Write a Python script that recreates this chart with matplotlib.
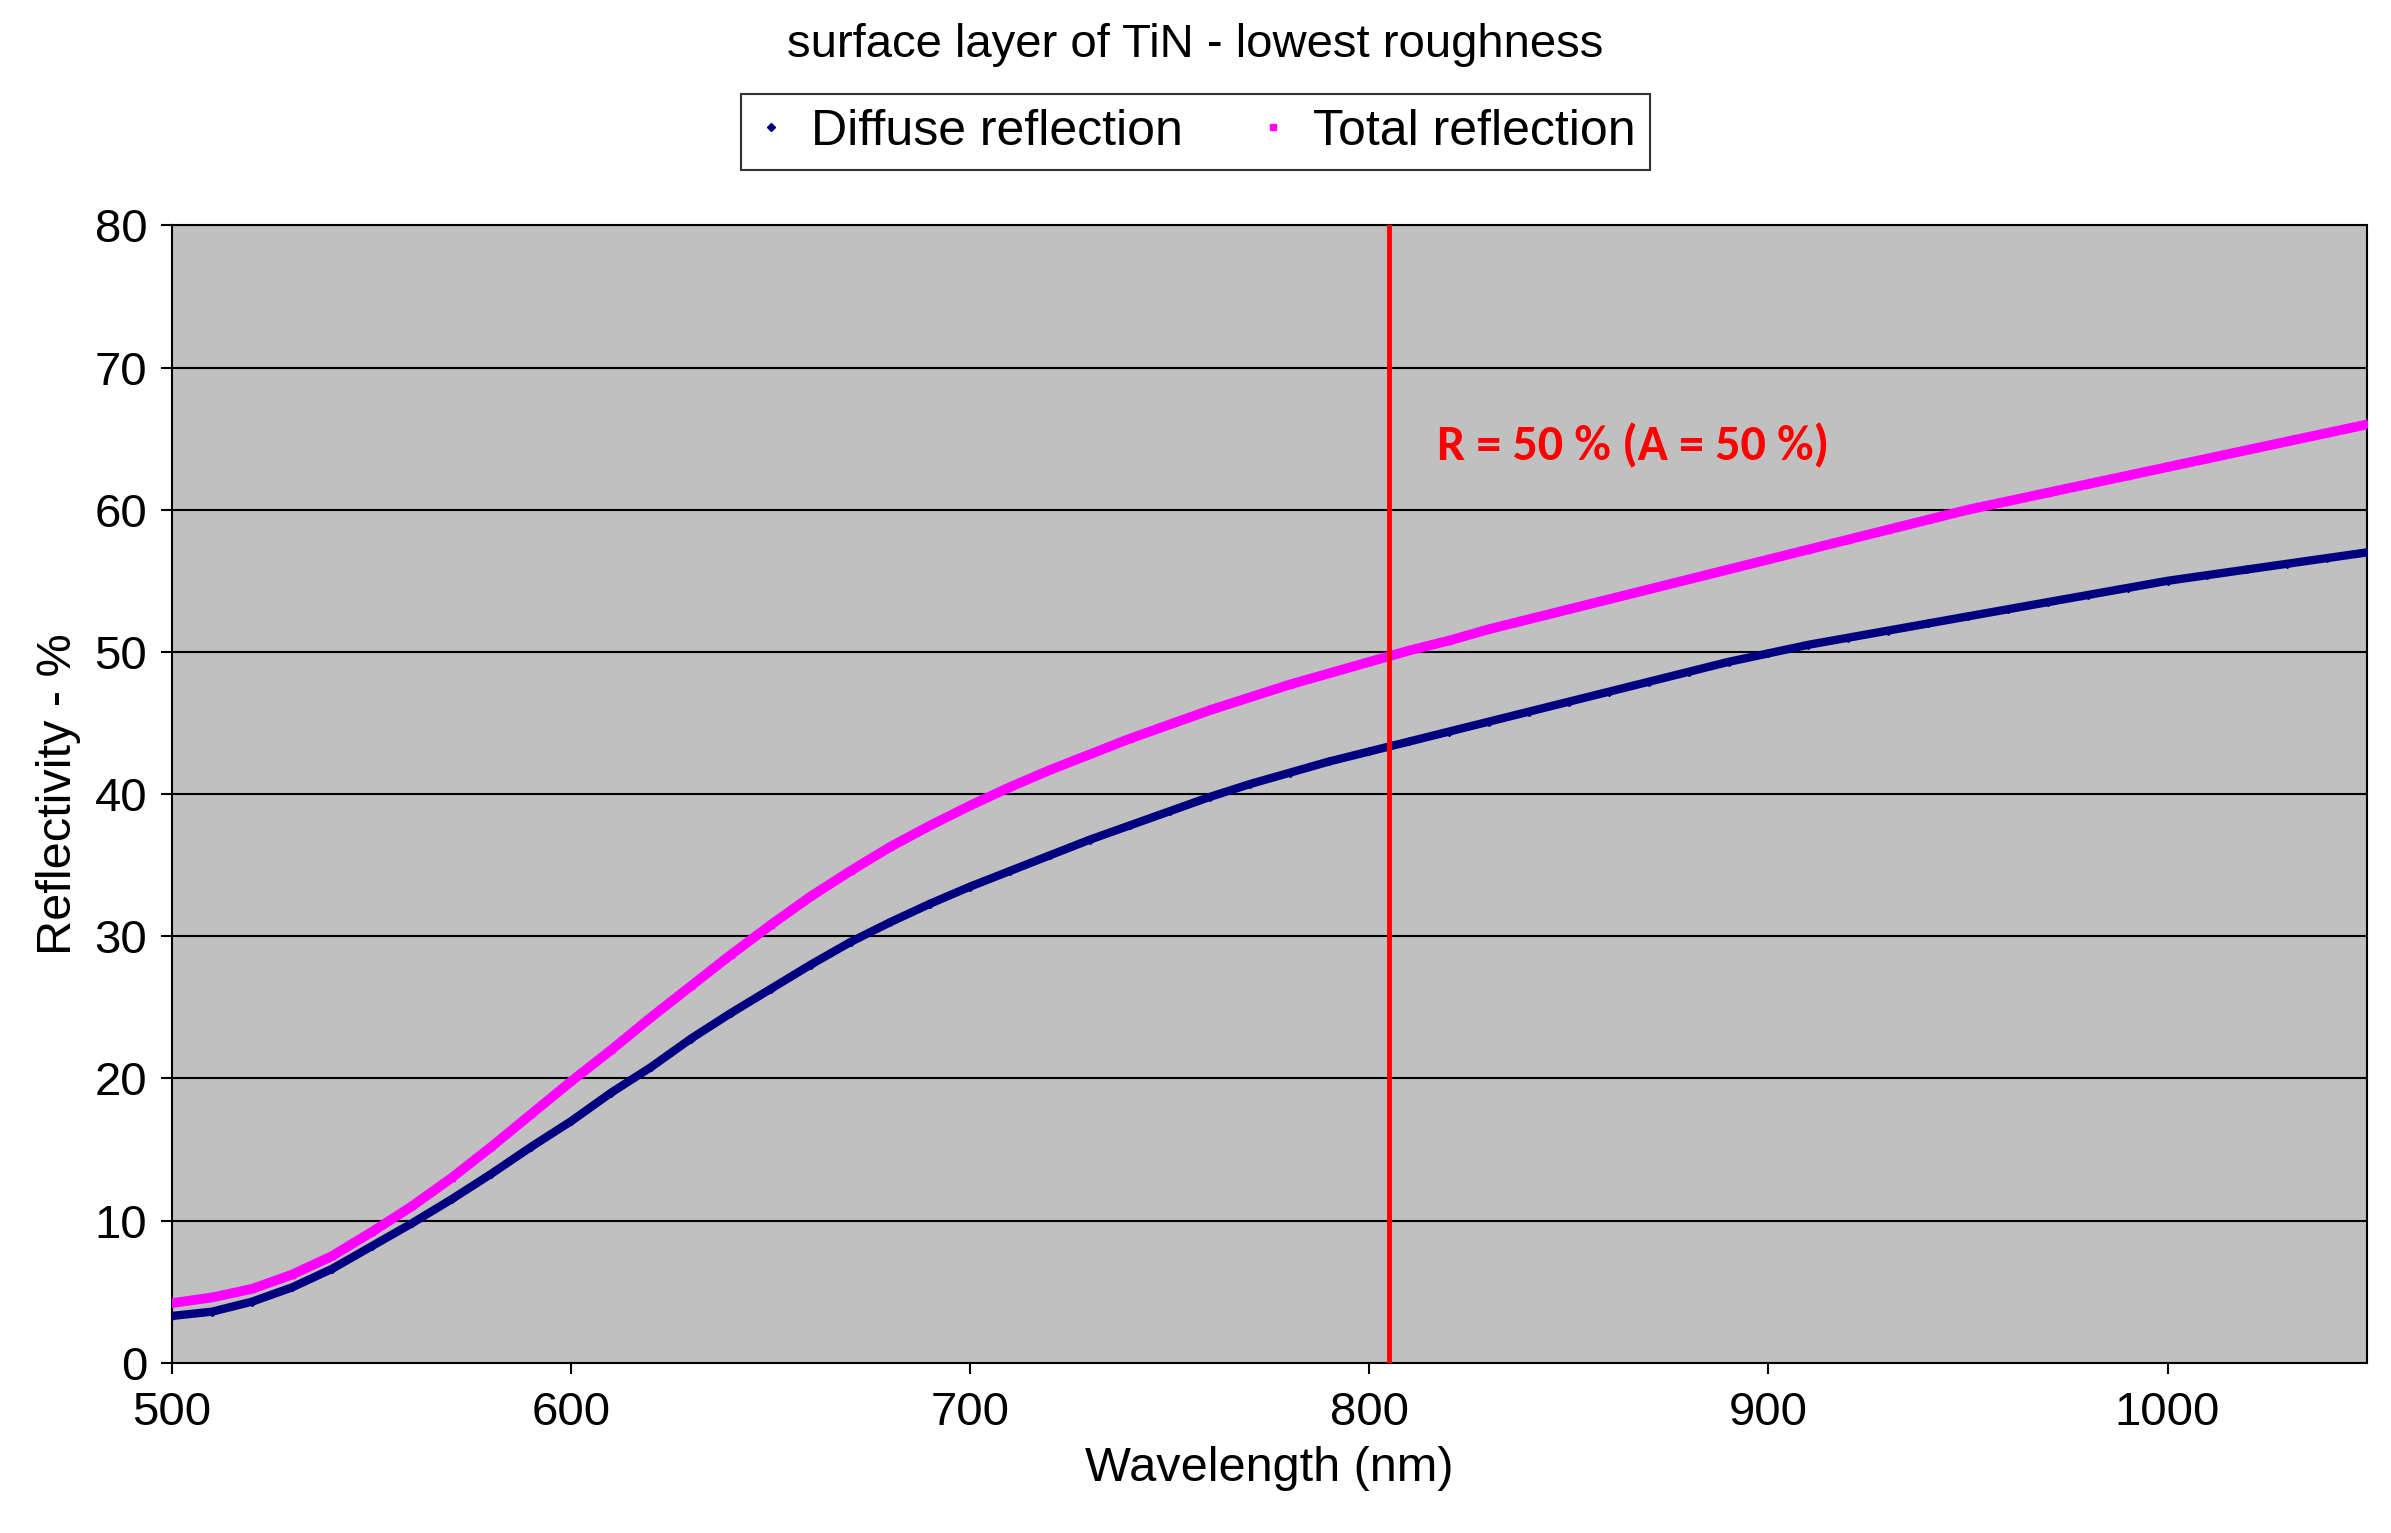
import matplotlib
matplotlib.use("Agg")
import matplotlib.pyplot as plt

wavelength = list(range(500, 1051, 10))
total = [4.2,4.6,5.2,6.2,7.5,9.2,11.0,13.0,15.2,17.5,19.8,22.0,24.3,26.5,28.7,30.8,32.8,34.6,36.3,37.8,
         39.2,40.5,41.7,42.8,43.9,44.9,45.9,46.8,47.7,48.5,49.3,50.1,50.8,51.6,52.3,53.0,53.7,54.4,55.1,55.8,
         56.5,57.2,57.9,58.6,59.3,60.0,60.6,61.2,61.8,62.4,63.0,63.6,64.2,64.8,65.4,66.0]
diffuse = [3.3,3.6,4.3,5.3,6.6,8.2,9.8,11.5,13.3,15.2,17.0,19.0,20.8,22.8,24.6,26.3,28.0,29.6,31.0,32.3,
           33.5,34.6,35.7,36.8,37.8,38.8,39.8,40.7,41.5,42.3,43.0,43.7,44.4,45.1,45.8,46.5,47.2,47.9,48.6,49.3,
           49.9,50.5,51.0,51.5,52.0,52.5,53.0,53.5,54.0,54.5,55.0,55.4,55.8,56.2,56.6,57.0]
marker_x = 805
annotation = "R = 50 % (A = 50 %)"

plt.rcParams['font.family'] = ['Liberation Sans', 'DejaVu Sans']
fig = plt.figure(figsize=(23.91, 15.33), dpi=100)
ax = fig.add_axes([0.072, 0.111, 0.918, 0.742])
ax.set_facecolor('#c0c0c0')
ax.plot(wavelength, diffuse, color='#000080', lw=6, marker='D', ms=4, label='Diffuse reflection', zorder=3)
ax.plot(wavelength, total, color='#ff00ff', lw=7, marker='s', ms=5, label='Total reflection', zorder=3)
ax.set_xlim(500, 1050)
ax.set_ylim(0, 80)
ax.set_xticks([500, 600, 700, 800, 900, 1000])
ax.set_yticks(range(0, 81, 10))
ax.yaxis.grid(True, color='black', lw=1.5)
ax.set_axisbelow(True)
ax.tick_params(labelsize=34, length=8, width=1.5, direction='out')
ax.tick_params(axis='x', pad=12)
ax.tick_params(axis='y', pad=10)
for s in ax.spines.values():
    s.set_linewidth(1.5)
ax.axvline(marker_x, color='red', lw=3.5, zorder=4)
ax.text(817, 64.5, annotation, color='red', fontsize=36, fontweight='bold',
        family=['Carlito', 'Liberation Sans', 'DejaVu Sans'], va='center')
ax.set_xlabel('Wavelength (nm)', fontsize=35, labelpad=8)
ax.set_ylabel('Reflectivity - %', fontsize=35, labelpad=10)
fig.suptitle('surface layer of TiN - lowest roughness', fontsize=34, y=0.985)
handles = [plt.Line2D([], [], color='#000080', marker='D', ms=4, ls=''),
           plt.Line2D([], [], color='#ff00ff', marker='s', ms=5, ls='')]
leg = fig.legend(handles, ['Diffuse reflection', 'Total reflection'], loc='center',
                 bbox_to_anchor=(0.5, 0.914), ncol=2, fontsize=36, frameon=True,
                 fancybox=False, edgecolor='black', handlelength=0.6, handletextpad=0.5,
                 columnspacing=1.5, borderpad=0.3)
leg.get_frame().set_linewidth(1.5)
fig.savefig('out.png', dpi=100)
